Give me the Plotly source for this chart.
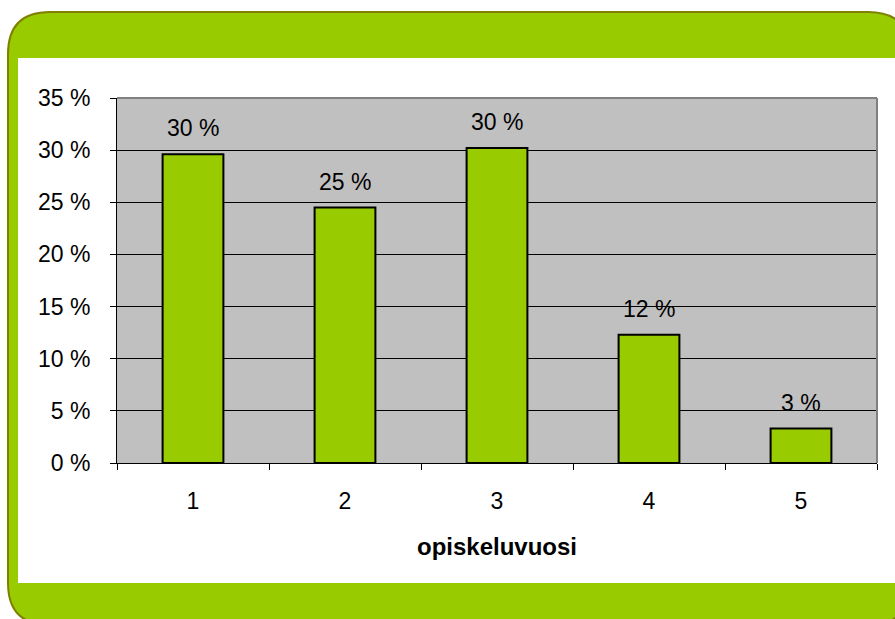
import plotly.graph_objects as go

categories = ["1", "2", "3", "4", "5"]
values = [29.6, 24.5, 30.2, 12.3, 3.3]
value_labels = ["30 %", "25 %", "30 %", "12 %", "3 %"]
y_tickvals = [0, 5, 10, 15, 20, 25, 30, 35]
y_ticktext = ["0 %", "5 %", "10 %", "15 %", "20 %", "25 %", "30 %", "35 %"]
x_title = "opiskeluvuosi"

W, H = 895, 619
L, R, T, B = 117, 877, 98, 463  # plot area in pixels

def px(x):
    return (x - L) / (R - L)

def py(y):
    return (B - y) / (B - T)

def rounded_path(x0, y0, x1, y1, r):
    pts = [
        f"M {px(x0 + r)},{py(y0)}",
        f"L {px(x1 - r)},{py(y0)}",
        f"Q {px(x1)},{py(y0)} {px(x1)},{py(y0 + r)}",
        f"L {px(x1)},{py(y1 - r)}",
        f"Q {px(x1)},{py(y1)} {px(x1 - r)},{py(y1)}",
        f"L {px(x0 + r)},{py(y1)}",
        f"Q {px(x0)},{py(y1)} {px(x0)},{py(y1 - r)}",
        f"L {px(x0)},{py(y0 + r)}",
        f"Q {px(x0)},{py(y0)} {px(x0 + r)},{py(y0)}",
        "Z",
    ]
    return " ".join(pts)

font = "Liberation Sans, Arial, sans-serif"
fs = 23

fig = go.Figure()
fig.add_trace(go.Bar(
    x=categories, y=values,
    marker=dict(color="#99CC00", line=dict(color="black", width=2)),
    hoverinfo="skip",
))

annotations = [
    dict(x=i, y=v, text=t, showarrow=False, yshift=26, xref="x", yref="y",
         font=dict(family=font, size=fs, color="black"))
    for i, (v, t) in enumerate(zip(values, value_labels))
]

shapes = [
    dict(type="path", path=rounded_path(8, 12, 910, 625, 42), xref="paper", yref="paper",
         fillcolor="#99CC00", line=dict(color="#808000", width=2), layer="below"),
    dict(type="rect", x0=px(18), x1=px(900), y0=py(58), y1=py(583), xref="paper", yref="paper",
         fillcolor="white", line=dict(width=0), layer="below"),
    dict(type="rect", x0=0, x1=1, y0=0, y1=1, xref="paper", yref="paper",
         fillcolor="#C0C0C0", line=dict(width=0), layer="below"),
    dict(type="line", x0=0, x1=1, y0=1, y1=1, xref="paper", yref="paper",
         line=dict(color="#808080", width=2), layer="above"),
    dict(type="line", x0=1, x1=1, y0=0, y1=1, xref="paper", yref="paper",
         line=dict(color="#808080", width=2), layer="above"),
]

fig.update_layout(
    width=W, height=H, autosize=False,
    margin=dict(l=L, r=W - R, t=T, b=H - B, pad=0),
    paper_bgcolor="white", plot_bgcolor="rgba(0,0,0,0)",
    bargap=0.6, showlegend=False,
    font=dict(family=font, size=fs, color="black"),
    annotations=annotations, shapes=shapes,
    xaxis=dict(
        type="category", range=[-0.5, 4.5], showline=True, linecolor="black", linewidth=1,
        ticks="outside", ticklen=6, tickcolor="black", tickson="boundaries",
        showgrid=False, zeroline=False, automargin=False,
        title=dict(text="<b>" + x_title + "</b>", standoff=25,
                   font=dict(family=font, size=24)),
        ticklabelstandoff=17,
    ),
    yaxis=dict(
        range=[0, 35], tickvals=y_tickvals, ticktext=y_ticktext,
        showline=True, linecolor="black", linewidth=1,
        ticks="outside", ticklen=6, tickcolor="black", automargin=False,
        showgrid=True, gridcolor="black", gridwidth=1, zeroline=False,
        ticklabelstandoff=15,
    ),
)

fig.write_html("out.html", config={"displayModeBar": False},
               post_script="document.body.style.margin='0';")
